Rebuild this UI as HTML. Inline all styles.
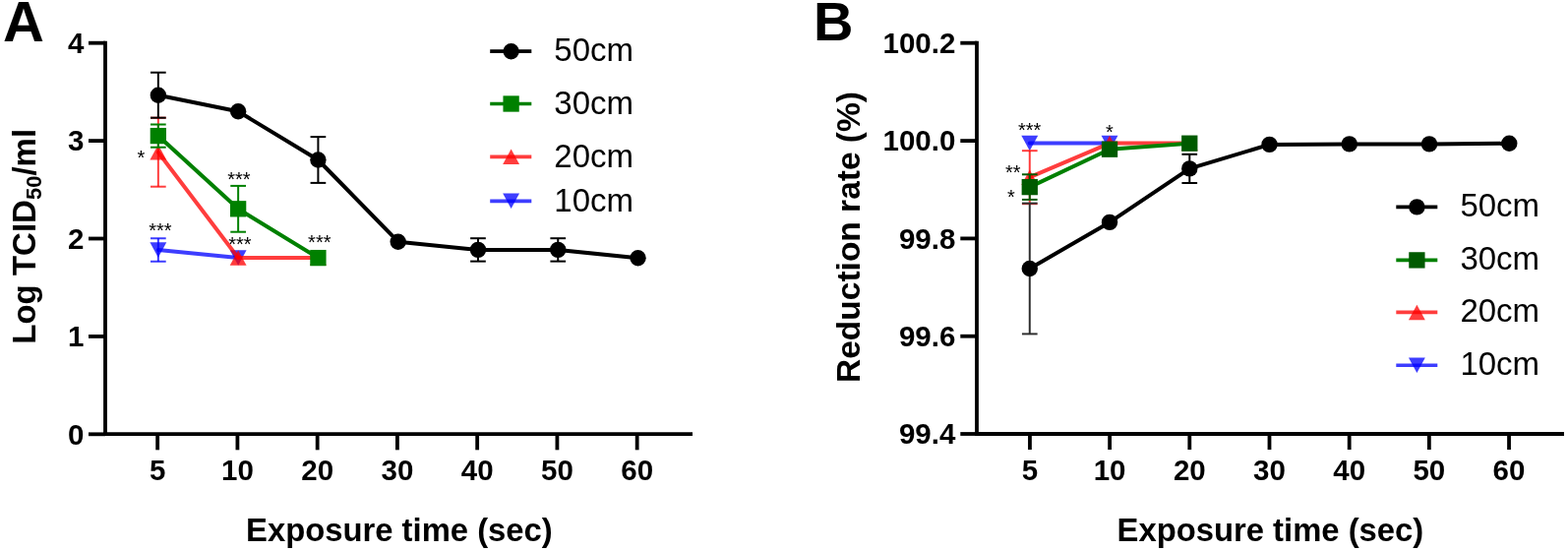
<!DOCTYPE html>
<html><head><meta charset="utf-8"><title>Figure</title>
<style>
html,body{margin:0;padding:0;background:#fff;}
body{width:1594px;height:560px;overflow:hidden;}
svg{display:block;}
svg text{font-family:"Liberation Sans", Arial, sans-serif;fill:#000;}
</style></head><body>
<svg width="1594" height="560" viewBox="0 0 1594 560">
<rect width="1594" height="560" fill="#fff"/>
<text x="3.00" y="41.60" font-size="58" font-weight="bold" text-anchor="start" >A</text>
<line x1="107.00" y1="41.80" x2="107.00" y2="443.10" stroke="#000" stroke-width="3.8" stroke-linecap="butt"/>
<line x1="105.10" y1="441.20" x2="704.00" y2="441.20" stroke="#000" stroke-width="3.8" stroke-linecap="butt"/>
<line x1="90.00" y1="441.30" x2="107.00" y2="441.30" stroke="#000" stroke-width="3.8" stroke-linecap="butt"/>
<text x="85.50" y="451.60" font-size="29.5" font-weight="bold" text-anchor="end" >0</text>
<line x1="90.00" y1="341.90" x2="107.00" y2="341.90" stroke="#000" stroke-width="3.8" stroke-linecap="butt"/>
<text x="85.50" y="352.20" font-size="29.5" font-weight="bold" text-anchor="end" >1</text>
<line x1="90.00" y1="242.50" x2="107.00" y2="242.50" stroke="#000" stroke-width="3.8" stroke-linecap="butt"/>
<text x="85.50" y="252.80" font-size="29.5" font-weight="bold" text-anchor="end" >2</text>
<line x1="90.00" y1="143.10" x2="107.00" y2="143.10" stroke="#000" stroke-width="3.8" stroke-linecap="butt"/>
<text x="85.50" y="153.40" font-size="29.5" font-weight="bold" text-anchor="end" >3</text>
<line x1="90.00" y1="43.70" x2="107.00" y2="43.70" stroke="#000" stroke-width="3.8" stroke-linecap="butt"/>
<text x="85.50" y="54.00" font-size="29.5" font-weight="bold" text-anchor="end" >4</text>
<line x1="160.16" y1="441.20" x2="160.16" y2="457.30" stroke="#000" stroke-width="3.8" stroke-linecap="butt"/>
<text x="160.16" y="488.30" font-size="29.5" font-weight="bold" text-anchor="middle" >5</text>
<line x1="241.41" y1="441.20" x2="241.41" y2="457.30" stroke="#000" stroke-width="3.8" stroke-linecap="butt"/>
<text x="241.41" y="488.30" font-size="29.5" font-weight="bold" text-anchor="middle" >10</text>
<line x1="322.66" y1="441.20" x2="322.66" y2="457.30" stroke="#000" stroke-width="3.8" stroke-linecap="butt"/>
<text x="322.66" y="488.30" font-size="29.5" font-weight="bold" text-anchor="middle" >20</text>
<line x1="403.91" y1="441.20" x2="403.91" y2="457.30" stroke="#000" stroke-width="3.8" stroke-linecap="butt"/>
<text x="403.91" y="488.30" font-size="29.5" font-weight="bold" text-anchor="middle" >30</text>
<line x1="485.16" y1="441.20" x2="485.16" y2="457.30" stroke="#000" stroke-width="3.8" stroke-linecap="butt"/>
<text x="485.16" y="488.30" font-size="29.5" font-weight="bold" text-anchor="middle" >40</text>
<line x1="566.41" y1="441.20" x2="566.41" y2="457.30" stroke="#000" stroke-width="3.8" stroke-linecap="butt"/>
<text x="566.41" y="488.30" font-size="29.5" font-weight="bold" text-anchor="middle" >50</text>
<line x1="647.66" y1="441.20" x2="647.66" y2="457.30" stroke="#000" stroke-width="3.8" stroke-linecap="butt"/>
<text x="647.66" y="488.30" font-size="29.5" font-weight="bold" text-anchor="middle" >60</text>
<text x="405.90" y="549.80" font-size="32.8" font-weight="bold" text-anchor="middle" >Exposure time (sec)</text>
<text transform="translate(36.3,240.3) rotate(-90)" font-size="33" font-weight="bold" text-anchor="middle">Log TCID<tspan font-size="22" dy="6">50</tspan><tspan dy="-6">/ml</tspan></text>
<line x1="160.85" y1="242.25" x2="160.85" y2="265.75" stroke="#0000ff" stroke-width="2.0" stroke-linecap="butt" stroke-opacity="0.76"/>
<line x1="153.00" y1="242.25" x2="168.70" y2="242.25" stroke="#0000ff" stroke-width="2.0" stroke-linecap="butt" stroke-opacity="0.76"/>
<line x1="153.00" y1="265.75" x2="168.70" y2="265.75" stroke="#0000ff" stroke-width="2.0" stroke-linecap="butt" stroke-opacity="0.76"/>
<line x1="160.85" y1="254.00" x2="242.13" y2="262.00" stroke="#0000ff" stroke-width="4.0" stroke-linecap="round" stroke-opacity="0.76"/>
<polygon points="160.85,261.75 169.30,246.25 152.40,246.25" fill="#0000ff" fill-opacity="0.76"/>
<polygon points="242.13,269.75 250.58,254.25 233.68,254.25" fill="#0000ff" fill-opacity="0.76"/>
<line x1="160.85" y1="119.70" x2="160.85" y2="189.70" stroke="#ff0000" stroke-width="2.0" stroke-linecap="butt" stroke-opacity="0.76"/>
<line x1="153.00" y1="119.70" x2="168.70" y2="119.70" stroke="#ff0000" stroke-width="2.0" stroke-linecap="butt" stroke-opacity="0.76"/>
<line x1="153.00" y1="189.70" x2="168.70" y2="189.70" stroke="#ff0000" stroke-width="2.0" stroke-linecap="butt" stroke-opacity="0.76"/>
<line x1="160.85" y1="154.70" x2="242.13" y2="262.00" stroke="#ff0000" stroke-width="4.0" stroke-linecap="round" stroke-opacity="0.76"/>
<line x1="242.13" y1="262.00" x2="323.41" y2="262.00" stroke="#ff0000" stroke-width="4.0" stroke-linecap="round" stroke-opacity="0.76"/>
<polygon points="160.85,146.95 169.30,162.45 152.40,162.45" fill="#ff0000" fill-opacity="0.76"/>
<polygon points="242.13,254.25 250.58,269.75 233.68,269.75" fill="#ff0000" fill-opacity="0.76"/>
<polygon points="323.41,254.25 331.86,269.75 314.96,269.75" fill="#ff0000" fill-opacity="0.76"/>
<line x1="160.85" y1="126.50" x2="160.85" y2="149.70" stroke="#008000" stroke-width="2.0" stroke-linecap="butt"/>
<line x1="153.00" y1="126.50" x2="168.70" y2="126.50" stroke="#008000" stroke-width="2.0" stroke-linecap="butt"/>
<line x1="153.00" y1="149.70" x2="168.70" y2="149.70" stroke="#008000" stroke-width="2.0" stroke-linecap="butt"/>
<line x1="242.13" y1="188.90" x2="242.13" y2="235.70" stroke="#008000" stroke-width="2.0" stroke-linecap="butt"/>
<line x1="234.28" y1="188.90" x2="249.98" y2="188.90" stroke="#008000" stroke-width="2.0" stroke-linecap="butt"/>
<line x1="234.28" y1="235.70" x2="249.98" y2="235.70" stroke="#008000" stroke-width="2.0" stroke-linecap="butt"/>
<line x1="160.85" y1="138.10" x2="242.13" y2="212.30" stroke="#008000" stroke-width="4.0" stroke-linecap="round"/>
<line x1="242.13" y1="212.30" x2="323.41" y2="262.10" stroke="#008000" stroke-width="4.0" stroke-linecap="round"/>
<rect x="152.70" y="129.95" width="16.3" height="16.3" fill="#008000"/>
<rect x="233.98" y="204.15" width="16.3" height="16.3" fill="#008000"/>
<rect x="315.26" y="253.95" width="16.3" height="16.3" fill="#008000"/>
<line x1="160.85" y1="73.70" x2="160.85" y2="119.70" stroke="#000" stroke-width="2.0" stroke-linecap="butt"/>
<line x1="153.00" y1="73.70" x2="168.70" y2="73.70" stroke="#000" stroke-width="2.0" stroke-linecap="butt"/>
<line x1="153.00" y1="119.70" x2="168.70" y2="119.70" stroke="#000" stroke-width="2.0" stroke-linecap="butt"/>
<line x1="323.41" y1="139.10" x2="323.41" y2="185.90" stroke="#000" stroke-width="2.0" stroke-linecap="butt"/>
<line x1="315.56" y1="139.10" x2="331.26" y2="139.10" stroke="#000" stroke-width="2.0" stroke-linecap="butt"/>
<line x1="315.56" y1="185.90" x2="331.26" y2="185.90" stroke="#000" stroke-width="2.0" stroke-linecap="butt"/>
<line x1="485.97" y1="242.20" x2="485.97" y2="265.60" stroke="#000" stroke-width="2.0" stroke-linecap="butt"/>
<line x1="478.12" y1="242.20" x2="493.82" y2="242.20" stroke="#000" stroke-width="2.0" stroke-linecap="butt"/>
<line x1="478.12" y1="265.60" x2="493.82" y2="265.60" stroke="#000" stroke-width="2.0" stroke-linecap="butt"/>
<line x1="567.25" y1="242.20" x2="567.25" y2="265.60" stroke="#000" stroke-width="2.0" stroke-linecap="butt"/>
<line x1="559.40" y1="242.20" x2="575.10" y2="242.20" stroke="#000" stroke-width="2.0" stroke-linecap="butt"/>
<line x1="559.40" y1="265.60" x2="575.10" y2="265.60" stroke="#000" stroke-width="2.0" stroke-linecap="butt"/>
<line x1="160.85" y1="96.70" x2="242.13" y2="113.30" stroke="#000" stroke-width="4.0" stroke-linecap="round"/>
<line x1="242.13" y1="113.30" x2="323.41" y2="162.50" stroke="#000" stroke-width="4.0" stroke-linecap="round"/>
<line x1="323.41" y1="162.50" x2="404.69" y2="245.70" stroke="#000" stroke-width="4.0" stroke-linecap="round"/>
<line x1="404.69" y1="245.70" x2="485.97" y2="253.90" stroke="#000" stroke-width="4.0" stroke-linecap="round"/>
<line x1="485.97" y1="253.90" x2="567.25" y2="253.90" stroke="#000" stroke-width="4.0" stroke-linecap="round"/>
<line x1="567.25" y1="253.90" x2="648.53" y2="262.20" stroke="#000" stroke-width="4.0" stroke-linecap="round"/>
<circle cx="160.85" cy="96.70" r="8.2" fill="#000"/>
<circle cx="242.13" cy="113.30" r="8.2" fill="#000"/>
<circle cx="323.41" cy="162.50" r="8.2" fill="#000"/>
<circle cx="404.69" cy="245.70" r="8.2" fill="#000"/>
<circle cx="485.97" cy="253.90" r="8.2" fill="#000"/>
<circle cx="567.25" cy="253.90" r="8.2" fill="#000"/>
<circle cx="648.53" cy="262.20" r="8.2" fill="#000"/>
<text x="143.50" y="167.22" font-size="20" font-weight="normal" text-anchor="middle" >*</text>
<text x="162.90" y="241.42" font-size="20" font-weight="normal" text-anchor="middle" >***</text>
<text x="242.90" y="189.42" font-size="20" font-weight="normal" text-anchor="middle" >***</text>
<text x="243.90" y="254.62" font-size="20" font-weight="normal" text-anchor="middle" >***</text>
<text x="324.80" y="253.42" font-size="20" font-weight="normal" text-anchor="middle" >***</text>
<line x1="498.20" y1="52.20" x2="540.30" y2="52.20" stroke="#000" stroke-width="3.7" stroke-linecap="butt"/>
<circle cx="519.60" cy="52.20" r="8.2" fill="#000"/>
<text x="563.30" y="62.40" font-size="33" font-weight="normal" text-anchor="start" >50cm</text>
<line x1="498.20" y1="105.50" x2="540.30" y2="105.50" stroke="#008000" stroke-width="3.7" stroke-linecap="butt"/>
<rect x="511.45" y="97.35" width="16.3" height="16.3" fill="#008000"/>
<text x="563.30" y="115.70" font-size="33" font-weight="normal" text-anchor="start" >30cm</text>
<line x1="498.20" y1="159.30" x2="540.30" y2="159.30" stroke="#ff0000" stroke-width="3.7" stroke-linecap="butt" stroke-opacity="0.76"/>
<polygon points="519.60,151.55 528.05,167.05 511.15,167.05" fill="#ff0000" fill-opacity="0.76"/>
<text x="563.30" y="169.50" font-size="33" font-weight="normal" text-anchor="start" >20cm</text>
<line x1="498.20" y1="204.30" x2="540.30" y2="204.30" stroke="#0000ff" stroke-width="3.7" stroke-linecap="butt" stroke-opacity="0.76"/>
<polygon points="519.60,212.05 528.05,196.55 511.15,196.55" fill="#0000ff" fill-opacity="0.76"/>
<text x="563.30" y="214.50" font-size="33" font-weight="normal" text-anchor="start" >10cm</text>
<text x="827.00" y="41.40" font-size="56" font-weight="bold" text-anchor="start" >B</text>
<line x1="993.00" y1="41.80" x2="993.00" y2="442.90" stroke="#000" stroke-width="3.8" stroke-linecap="butt"/>
<line x1="991.10" y1="441.00" x2="1590.00" y2="441.00" stroke="#000" stroke-width="3.8" stroke-linecap="butt"/>
<line x1="976.30" y1="441.00" x2="993.00" y2="441.00" stroke="#000" stroke-width="3.8" stroke-linecap="butt"/>
<text x="971.30" y="451.30" font-size="29.5" font-weight="bold" text-anchor="end" >99.4</text>
<line x1="976.30" y1="341.70" x2="993.00" y2="341.70" stroke="#000" stroke-width="3.8" stroke-linecap="butt"/>
<text x="971.30" y="352.00" font-size="29.5" font-weight="bold" text-anchor="end" >99.6</text>
<line x1="976.30" y1="242.40" x2="993.00" y2="242.40" stroke="#000" stroke-width="3.8" stroke-linecap="butt"/>
<text x="971.30" y="252.70" font-size="29.5" font-weight="bold" text-anchor="end" >99.8</text>
<line x1="976.30" y1="143.10" x2="993.00" y2="143.10" stroke="#000" stroke-width="3.8" stroke-linecap="butt"/>
<text x="971.30" y="153.40" font-size="29.5" font-weight="bold" text-anchor="end" >100.0</text>
<line x1="976.30" y1="43.70" x2="993.00" y2="43.70" stroke="#000" stroke-width="3.8" stroke-linecap="butt"/>
<text x="971.30" y="54.00" font-size="29.5" font-weight="bold" text-anchor="end" >100.2</text>
<line x1="1046.95" y1="441.00" x2="1046.95" y2="457.00" stroke="#000" stroke-width="3.8" stroke-linecap="butt"/>
<text x="1046.95" y="488.30" font-size="29.5" font-weight="bold" text-anchor="middle" >5</text>
<line x1="1128.13" y1="441.00" x2="1128.13" y2="457.00" stroke="#000" stroke-width="3.8" stroke-linecap="butt"/>
<text x="1128.13" y="488.30" font-size="29.5" font-weight="bold" text-anchor="middle" >10</text>
<line x1="1209.31" y1="441.00" x2="1209.31" y2="457.00" stroke="#000" stroke-width="3.8" stroke-linecap="butt"/>
<text x="1209.31" y="488.30" font-size="29.5" font-weight="bold" text-anchor="middle" >20</text>
<line x1="1290.49" y1="441.00" x2="1290.49" y2="457.00" stroke="#000" stroke-width="3.8" stroke-linecap="butt"/>
<text x="1290.49" y="488.30" font-size="29.5" font-weight="bold" text-anchor="middle" >30</text>
<line x1="1371.67" y1="441.00" x2="1371.67" y2="457.00" stroke="#000" stroke-width="3.8" stroke-linecap="butt"/>
<text x="1371.67" y="488.30" font-size="29.5" font-weight="bold" text-anchor="middle" >40</text>
<line x1="1452.85" y1="441.00" x2="1452.85" y2="457.00" stroke="#000" stroke-width="3.8" stroke-linecap="butt"/>
<text x="1452.85" y="488.30" font-size="29.5" font-weight="bold" text-anchor="middle" >50</text>
<line x1="1534.03" y1="441.00" x2="1534.03" y2="457.00" stroke="#000" stroke-width="3.8" stroke-linecap="butt"/>
<text x="1534.03" y="488.30" font-size="29.5" font-weight="bold" text-anchor="middle" >60</text>
<text x="1291.40" y="549.80" font-size="32.8" font-weight="bold" text-anchor="middle" >Exposure time (sec)</text>
<text transform="translate(874.4,241.0) rotate(-90)" font-size="33.5" font-weight="bold" text-anchor="middle">Reduction rate (%)</text>
<line x1="1046.78" y1="145.50" x2="1128.03" y2="145.50" stroke="#0000ff" stroke-width="4.0" stroke-linecap="round" stroke-opacity="0.76"/>
<polygon points="1046.78,153.25 1055.23,137.75 1038.33,137.75" fill="#0000ff" fill-opacity="0.76"/>
<polygon points="1128.03,153.25 1136.48,137.75 1119.58,137.75" fill="#0000ff" fill-opacity="0.76"/>
<line x1="1046.78" y1="153.20" x2="1046.78" y2="207.20" stroke="#ff0000" stroke-width="2.0" stroke-linecap="butt" stroke-opacity="0.76"/>
<line x1="1038.93" y1="153.20" x2="1054.63" y2="153.20" stroke="#ff0000" stroke-width="2.0" stroke-linecap="butt" stroke-opacity="0.76"/>
<line x1="1038.93" y1="207.20" x2="1054.63" y2="207.20" stroke="#ff0000" stroke-width="2.0" stroke-linecap="butt" stroke-opacity="0.76"/>
<line x1="1046.78" y1="180.20" x2="1128.03" y2="145.60" stroke="#ff0000" stroke-width="4.0" stroke-linecap="round" stroke-opacity="0.76"/>
<line x1="1128.03" y1="145.60" x2="1209.28" y2="145.60" stroke="#ff0000" stroke-width="4.0" stroke-linecap="round" stroke-opacity="0.76"/>
<polygon points="1046.78,172.45 1055.23,187.95 1038.33,187.95" fill="#ff0000" fill-opacity="0.76"/>
<polygon points="1128.03,137.85 1136.48,153.35 1119.58,153.35" fill="#ff0000" fill-opacity="0.76"/>
<polygon points="1209.28,137.85 1217.73,153.35 1200.83,153.35" fill="#ff0000" fill-opacity="0.76"/>
<line x1="1046.78" y1="177.30" x2="1046.78" y2="202.90" stroke="#005a00" stroke-width="2.0" stroke-linecap="butt"/>
<line x1="1038.93" y1="177.30" x2="1054.63" y2="177.30" stroke="#005a00" stroke-width="2.0" stroke-linecap="butt"/>
<line x1="1038.93" y1="202.90" x2="1054.63" y2="202.90" stroke="#005a00" stroke-width="2.0" stroke-linecap="butt"/>
<line x1="1046.78" y1="190.10" x2="1128.03" y2="151.70" stroke="#008000" stroke-width="4.0" stroke-linecap="round"/>
<line x1="1128.03" y1="151.70" x2="1209.28" y2="145.70" stroke="#008000" stroke-width="4.0" stroke-linecap="round"/>
<rect x="1038.63" y="181.95" width="16.3" height="16.3" fill="#005a00"/>
<rect x="1119.88" y="143.55" width="16.3" height="16.3" fill="#005a00"/>
<rect x="1201.13" y="137.55" width="16.3" height="16.3" fill="#005a00"/>
<line x1="1046.78" y1="206.60" x2="1046.78" y2="339.40" stroke="#303030" stroke-width="2.0" stroke-linecap="butt"/>
<line x1="1038.93" y1="206.60" x2="1054.63" y2="206.60" stroke="#303030" stroke-width="2.0" stroke-linecap="butt"/>
<line x1="1038.93" y1="339.40" x2="1054.63" y2="339.40" stroke="#303030" stroke-width="2.0" stroke-linecap="butt"/>
<line x1="1209.28" y1="156.80" x2="1209.28" y2="186.00" stroke="#000" stroke-width="2.0" stroke-linecap="butt"/>
<line x1="1201.43" y1="156.80" x2="1217.13" y2="156.80" stroke="#000" stroke-width="2.0" stroke-linecap="butt"/>
<line x1="1201.43" y1="186.00" x2="1217.13" y2="186.00" stroke="#000" stroke-width="2.0" stroke-linecap="butt"/>
<line x1="1046.78" y1="273.00" x2="1128.03" y2="225.90" stroke="#000" stroke-width="4.0" stroke-linecap="round"/>
<line x1="1128.03" y1="225.90" x2="1209.28" y2="171.40" stroke="#000" stroke-width="4.0" stroke-linecap="round"/>
<line x1="1209.28" y1="171.40" x2="1290.53" y2="146.90" stroke="#000" stroke-width="4.0" stroke-linecap="round"/>
<line x1="1290.53" y1="146.90" x2="1371.78" y2="146.40" stroke="#000" stroke-width="4.0" stroke-linecap="round"/>
<line x1="1371.78" y1="146.40" x2="1453.03" y2="146.40" stroke="#000" stroke-width="4.0" stroke-linecap="round"/>
<line x1="1453.03" y1="146.40" x2="1534.28" y2="145.80" stroke="#000" stroke-width="4.0" stroke-linecap="round"/>
<circle cx="1046.78" cy="273.00" r="8.2" fill="#000"/>
<circle cx="1128.03" cy="225.90" r="8.2" fill="#000"/>
<circle cx="1209.28" cy="171.40" r="8.2" fill="#000"/>
<circle cx="1290.53" cy="146.90" r="8.2" fill="#000"/>
<circle cx="1371.78" cy="146.40" r="8.2" fill="#000"/>
<circle cx="1453.03" cy="146.40" r="8.2" fill="#000"/>
<circle cx="1534.28" cy="145.80" r="8.2" fill="#000"/>
<text x="1046.60" y="138.92" font-size="20" font-weight="normal" text-anchor="middle" >***</text>
<text x="1029.70" y="182.42" font-size="20" font-weight="normal" text-anchor="middle" >**</text>
<text x="1027.90" y="206.72" font-size="20" font-weight="normal" text-anchor="middle" >*</text>
<text x="1127.90" y="140.72" font-size="20" font-weight="normal" text-anchor="middle" >*</text>
<line x1="1419.30" y1="210.40" x2="1461.30" y2="210.40" stroke="#000" stroke-width="3.6" stroke-linecap="butt"/>
<circle cx="1440.40" cy="210.40" r="8.2" fill="#000"/>
<text x="1484.40" y="220.40" font-size="33" font-weight="normal" text-anchor="start" >50cm</text>
<line x1="1419.30" y1="264.40" x2="1461.30" y2="264.40" stroke="#008000" stroke-width="3.6" stroke-linecap="butt"/>
<rect x="1432.25" y="256.25" width="16.3" height="16.3" fill="#005a00"/>
<text x="1484.40" y="274.40" font-size="33" font-weight="normal" text-anchor="start" >30cm</text>
<line x1="1419.30" y1="317.40" x2="1461.30" y2="317.40" stroke="#ff0000" stroke-width="3.6" stroke-linecap="butt" stroke-opacity="0.76"/>
<polygon points="1440.40,309.65 1448.85,325.15 1431.95,325.15" fill="#ff0000" fill-opacity="0.76"/>
<text x="1484.40" y="327.40" font-size="33" font-weight="normal" text-anchor="start" >20cm</text>
<line x1="1419.30" y1="371.20" x2="1461.30" y2="371.20" stroke="#0000ff" stroke-width="3.6" stroke-linecap="butt" stroke-opacity="0.76"/>
<polygon points="1440.40,378.95 1448.85,363.45 1431.95,363.45" fill="#0000ff" fill-opacity="0.76"/>
<text x="1484.40" y="381.20" font-size="33" font-weight="normal" text-anchor="start" >10cm</text>
</svg>
</body></html>
